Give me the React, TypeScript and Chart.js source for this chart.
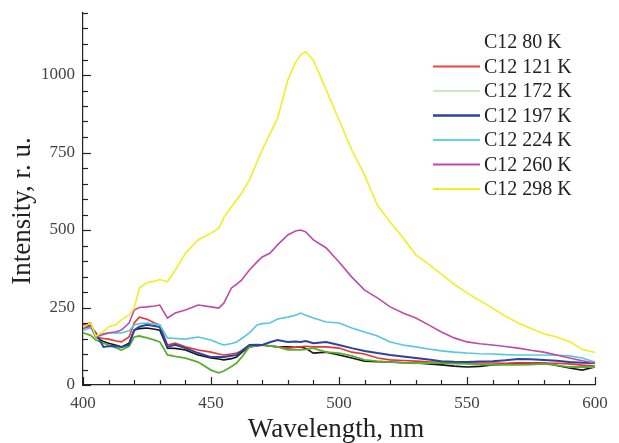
import React, { useEffect, useRef } from "react";
import { Chart, registerables } from "chart.js";

Chart.register(...registerables);

const wavelengths = [400,403,405,408,410,413,415,418,420,422,425,428,430,433,436,440,445,450,453,455,458,460,462,465,468,470,473,476,480,483,485,487,490,495,500,505,510,515,520,525,530,535,540,545,550,555,560,565,570,575,580,585,590,595,600];

const yellow298 = [187,200,158,172,187,195,210,225,248,313,330,335,340,333,370,425,468,490,505,540,575,597,620,661,720,758,810,860,984,1040,1065,1075,1048,952,855,758,677,580,525,475,420,390,358,325,297,272,248,222,200,182,165,155,140,115,105];
const magenta260 = [185,190,155,165,168,172,177,200,242,250,252,255,258,216,232,242,258,252,248,264,313,325,339,371,397,413,425,452,484,497,500,494,468,442,397,348,306,281,252,232,216,194,171,152,139,133,129,124,119,112,106,97,87,78,71];
const cyan224 = [177,185,155,162,168,168,168,175,194,198,200,197,194,152,150,148,155,145,135,129,134,139,150,168,194,198,200,213,219,225,232,225,216,203,200,184,171,158,139,129,123,116,110,106,103,101,100,98,97,97,97,96,94,87,74];
const red121 = [194,200,155,150,148,142,139,155,200,219,212,200,194,129,135,123,113,106,100,97,100,103,110,123,127,129,126,123,119,121,123,125,123,123,119,106,100,87,81,79,77,75,74,72,71,71,71,70,71,72,71,70,68,64,61];
const blue197 = [184,190,168,123,125,126,122,130,177,188,194,190,187,123,130,119,103,90,90,90,94,97,110,129,130,129,138,145,139,140,139,142,135,139,129,119,110,103,97,92,87,82,77,75,74,76,77,80,84,83,81,78,74,72,71];
const green172 = [168,160,145,135,129,120,113,125,155,158,152,145,139,97,92,87,74,48,39,45,60,71,90,123,128,129,126,123,113,113,113,115,119,106,103,94,81,77,74,72,71,71,71,69,68,66,65,65,65,66,68,64,58,58,58];
const black80 = [187,192,155,140,135,128,123,135,177,182,184,180,177,119,118,113,97,87,84,81,85,90,105,123,127,129,126,123,123,122,123,118,103,106,97,87,77,75,74,72,71,68,65,61,58,60,65,68,71,72,71,63,55,48,58];

const seriesLabels = ["C12 80 K", "C12 121 K", "C12 172 K", "C12 197 K", "C12 224 K", "C12 260 K", "C12 298 K"];
const seriesValues = [black80, red121, green172, blue197, cyan224, magenta260, yellow298];
const lineColors = ["#151515", "#ee3333", "#58b030", "#2a44a0", "#55c8e0", "#c04aa8", "#f2ee22"];
const legendColors = ["", "#ee4444", "#cfe8bf", "#2a44a0", "#66d0e4", "#c04aa8", "#f2ee22"];
const lineWidths = [1.6, 1.6, 1.8, 2, 1.6, 1.6, 1.6];

const yTickLabels = [0, 250, 500, 750, 1000];
const xTickLabels = [400, 450, 500, 550, 600];

const SERIF = "'Liberation Serif', 'DejaVu Serif', serif";

const decorPlugin = {
  id: "decor",
  afterDraw(chart: any) {
    const ctx = chart.ctx;
    const xs = chart.scales.x;
    const ys = chart.scales.y;
    const area = chart.chartArea;
    ctx.save();
    ctx.strokeStyle = "#222";
    ctx.lineWidth = 1.2;
    for (let v = 0; v <= 1200; v += 50) {
      const y = Math.round(ys.getPixelForValue(v)) + 0.5;
      const len = v % 250 === 0 ? 8 : 5;
      ctx.beginPath();
      ctx.moveTo(area.left, y);
      ctx.lineTo(area.left + len, y);
      ctx.stroke();
    }
    for (let v = 400; v <= 600; v += 10) {
      const x = Math.round(xs.getPixelForValue(v)) + 0.5;
      const len = v % 50 === 0 ? 8 : 5;
      ctx.beginPath();
      ctx.moveTo(x, area.bottom);
      ctx.lineTo(x, area.bottom - len);
      ctx.stroke();
    }
    ctx.fillStyle = "#222";
    ctx.font = "27px " + SERIF;
    ctx.textAlign = "center";
    ctx.textBaseline = "middle";
    ctx.fillText("Wavelength, nm", 336, 430);
    ctx.save();
    ctx.translate(23, 211);
    ctx.rotate(-Math.PI / 2);
    ctx.fillText("Intensity, r. u.", 0, 0);
    ctx.restore();
    ctx.font = "20px " + SERIF;
    ctx.textAlign = "left";
    const rowY0 = 42;
    const step = 24.5;
    chart.data.datasets.forEach((ds: any, i: number) => {
      const y = rowY0 + i * step;
      if (legendColors[i]) {
        ctx.strokeStyle = legendColors[i];
        ctx.lineWidth = i === 3 ? 2.5 : 2;
        ctx.beginPath();
        ctx.moveTo(433, y);
        ctx.lineTo(480, y);
        ctx.stroke();
      }
      ctx.fillStyle = "#222";
      ctx.fillText(ds.label, 484, y + 1);
    });
    ctx.restore();
  },
};

export default function App() {
  const ref = useRef<HTMLCanvasElement>(null);
  useEffect(() => {
    if (!ref.current) return;
    const datasets = seriesValues.map((vals, i) => ({
      label: seriesLabels[i],
      data: vals.map((v, j) => ({ x: wavelengths[j], y: v })),
      borderColor: lineColors[i],
      backgroundColor: lineColors[i],
      borderWidth: lineWidths[i],
      pointRadius: 0,
      tension: 0,
      fill: false,
      order: 7 - i,
    }));
    const chart = new Chart(ref.current, {
      type: "line",
      data: { datasets },
      options: {
        animation: false,
        responsive: false,
        layout: { padding: { top: 13, right: 24, left: 0, bottom: 0 } },
        plugins: { legend: { display: false }, tooltip: { enabled: false } },
        scales: {
          x: {
            type: "linear",
            min: 400,
            max: 600,
            afterFit: (s: any) => { s.height = 58; s.paddingLeft = 0; s.paddingRight = 0; },
            afterBuildTicks: (s: any) => { s.ticks = xTickLabels.map((v) => ({ value: v })); },
            grid: { display: false, drawTicks: false, tickLength: 0 },
            border: { display: true, color: "#222", width: 1.2 },
            ticks: { font: { family: SERIF, size: 17 }, color: "#444", padding: 8, maxRotation: 0, callback: (v: any) => String(v) },
          },
          y: {
            min: 0,
            max: 1200,
            afterFit: (s: any) => { s.width = 83; s.paddingTop = 0; s.paddingBottom = 0; },
            afterBuildTicks: (s: any) => { s.ticks = yTickLabels.map((v) => ({ value: v })); },
            grid: { display: false, drawTicks: false, tickLength: 0 },
            border: { display: true, color: "#222", width: 1.2 },
            ticks: { font: { family: SERIF, size: 17 }, color: "#444", padding: 8, callback: (v: any) => String(v) },
          },
        },
      },
      plugins: [decorPlugin],
    });
    return () => chart.destroy();
  }, []);
  return (
    <div style={{ position: "fixed", left: 0, top: 0, width: 619, height: 443, background: "#fff" }}>
      <canvas ref={ref} width={619} height={443} style={{ display: "block" }} />
    </div>
  );
}
